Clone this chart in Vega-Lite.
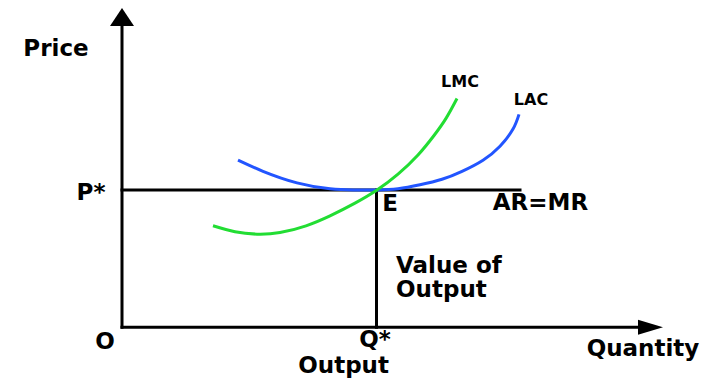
{
  "$schema": "https://vega.github.io/schema/vega-lite/v6.json",
  "width": 718,
  "height": 378,
  "autosize": {"type": "fit", "contains": "padding"},
  "padding": 0,
  "background": "white",
  "config": {"view": {"stroke": null}},
  "layer": [
    {
      "data": {"values": [
        {"q": 0, "p": 0, "q2": 0, "p2": 7.7},
        {"q": 0, "p": 0, "q2": 13.1, "p2": 0},
        {"q": 0, "p": 3.45, "q2": 9.95, "p2": 3.45},
        {"q": 6.3625, "p": 0, "q2": 6.3625, "p2": 3.45}
      ]},
      "mark": {"type": "rule", "color": "black", "strokeWidth": 3, "strokeCap": "square"},
      "encoding": {
        "x": {"field": "q", "type": "quantitative", "scale": {"domain": [-3.05, 14.9], "zero": false, "nice": false}, "axis": null},
        "y": {"field": "p", "type": "quantitative", "scale": {"domain": [-1.225, 8.225], "zero": false, "nice": false}, "axis": null},
        "x2": {"field": "q2"},
        "y2": {"field": "p2"}
      }
    },
    {
      "data": {"values": [
        {"curve": "LAC", "q": 2.9, "p": 4.2},
        {"curve": "LAC", "q": 3.525, "p": 3.92},
        {"curve": "LAC", "q": 4.375, "p": 3.63},
        {"curve": "LAC", "q": 5.2, "p": 3.48},
        {"curve": "LAC", "q": 5.8, "p": 3.45},
        {"curve": "LAC", "q": 6.375, "p": 3.45},
        {"curve": "LAC", "q": 6.9, "p": 3.48},
        {"curve": "LAC", "q": 7.45, "p": 3.58},
        {"curve": "LAC", "q": 8.0, "p": 3.72},
        {"curve": "LAC", "q": 8.5, "p": 3.92},
        {"curve": "LAC", "q": 9.025, "p": 4.2},
        {"curve": "LAC", "q": 9.45, "p": 4.55},
        {"curve": "LAC", "q": 9.775, "p": 4.98},
        {"curve": "LAC", "q": 9.925, "p": 5.35},
        {"curve": "LMC", "q": 2.275, "p": 2.55},
        {"curve": "LMC", "q": 2.825, "p": 2.4},
        {"curve": "LMC", "q": 3.375, "p": 2.34},
        {"curve": "LMC", "q": 3.95, "p": 2.38},
        {"curve": "LMC", "q": 4.6, "p": 2.55},
        {"curve": "LMC", "q": 5.2, "p": 2.8},
        {"curve": "LMC", "q": 5.825, "p": 3.12},
        {"curve": "LMC", "q": 6.375, "p": 3.45},
        {"curve": "LMC", "q": 6.9, "p": 3.85},
        {"curve": "LMC", "q": 7.4, "p": 4.33},
        {"curve": "LMC", "q": 7.8, "p": 4.82},
        {"curve": "LMC", "q": 8.1, "p": 5.25},
        {"curve": "LMC", "q": 8.375, "p": 5.75}
      ]},
      "mark": {"type": "line", "strokeWidth": 3, "interpolate": "natural"},
      "encoding": {
        "x": {"field": "q", "type": "quantitative"},
        "y": {"field": "p", "type": "quantitative"},
        "color": {"field": "curve", "type": "nominal", "scale": {"domain": ["LAC", "LMC"], "range": ["#2255ff", "#22dd33"]}, "legend": null}
      }
    },
    {
      "data": {"values": [{"q": 0, "p": 7.8}]},
      "mark": {"type": "point", "shape": "M0,-0.75L1,0.75L-1,0.75Z", "size": 576, "filled": true, "color": "black", "opacity": 1},
      "encoding": {
        "x": {"field": "q", "type": "quantitative"},
        "y": {"field": "p", "type": "quantitative"}
      }
    },
    {
      "data": {"values": [{"q": 13.2125, "p": 0}]},
      "mark": {"type": "point", "shape": "M1,0L-1,-0.6L-1,0.6Z", "size": 625, "filled": true, "color": "black", "opacity": 1},
      "encoding": {
        "x": {"field": "q", "type": "quantitative"},
        "y": {"field": "p", "type": "quantitative"}
      }
    },
    {
      "data": {"values": [
        {"label": "Price", "q": -1.65, "p": 6.99},
        {"label": "P*", "q": -0.775, "p": 3.375},
        {"label": "E", "q": 6.7, "p": 3.09},
        {"label": "AR=MR", "q": 10.46, "p": 3.125},
        {"label": "O", "q": -0.425, "p": -0.36},
        {"label": "Q*", "q": 6.325, "p": -0.31},
        {"label": "Output", "q": 5.54, "p": -0.975},
        {"label": "Quantity", "q": 13.025, "p": -0.55}
      ]},
      "mark": {"type": "text", "font": "DejaVu Sans", "fontWeight": "bold", "fontSize": 23, "align": "center", "baseline": "middle", "color": "black"},
      "encoding": {
        "x": {"field": "q", "type": "quantitative"},
        "y": {"field": "p", "type": "quantitative"},
        "text": {"field": "label"}
      }
    },
    {
      "data": {"values": [
        {"label": "Value of", "q": 6.85, "p": 1.54},
        {"label": "Output", "q": 6.85, "p": 0.925}
      ]},
      "mark": {"type": "text", "font": "DejaVu Sans", "fontWeight": "bold", "fontSize": 23, "align": "left", "baseline": "middle", "color": "black"},
      "encoding": {
        "x": {"field": "q", "type": "quantitative"},
        "y": {"field": "p", "type": "quantitative"},
        "text": {"field": "label"}
      }
    },
    {
      "data": {"values": [
        {"label": "LMC", "q": 8.45, "p": 6.175},
        {"label": "LAC", "q": 10.225, "p": 5.71}
      ]},
      "mark": {"type": "text", "font": "DejaVu Sans", "fontWeight": "bold", "fontSize": 16, "align": "center", "baseline": "middle", "color": "black"},
      "encoding": {
        "x": {"field": "q", "type": "quantitative"},
        "y": {"field": "p", "type": "quantitative"},
        "text": {"field": "label"}
      }
    }
  ]
}
